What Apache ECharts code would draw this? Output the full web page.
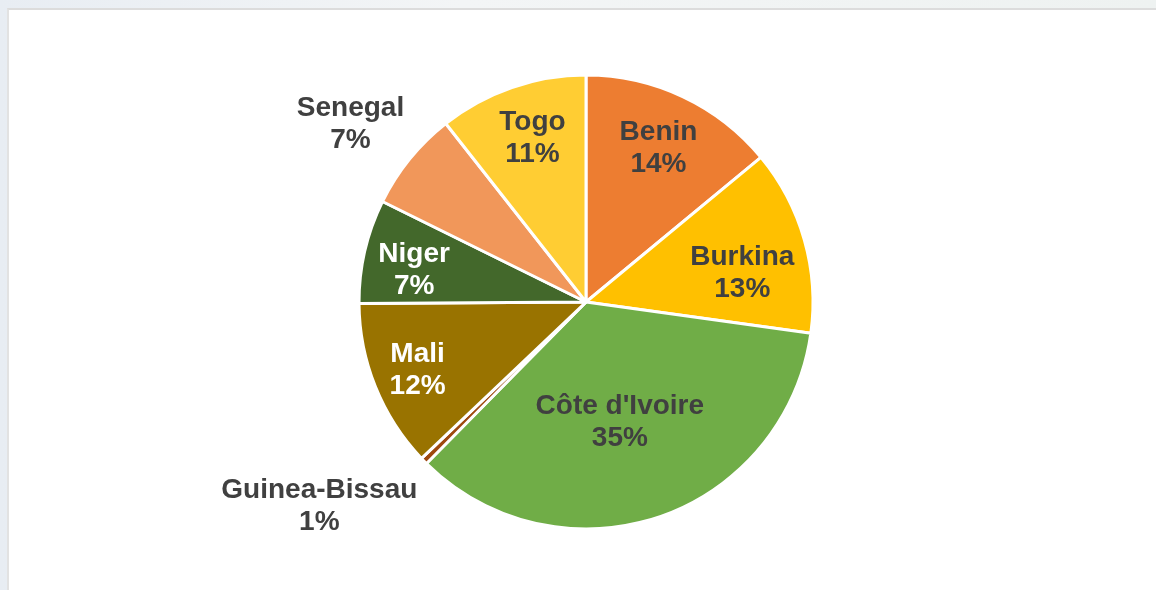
<!DOCTYPE html>
<html>
<head>
<meta charset="utf-8">
<script src="https://cdn.jsdelivr.net/npm/echarts@6/dist/echarts.min.js"></script>
<style>
  html, body { margin: 0; padding: 0; }
  body {
    width: 1156px; height: 590px; overflow: hidden; position: relative;
    background: linear-gradient(90deg, #e8edf3 0%, #f3f5f6 40%, #eef2f1 100%);
  }
  #panel {
    position: absolute; left: 7px; top: 8px; right: 0; bottom: 0;
    background: #fff;
    border-top: 2px solid #dcdcdc;
    border-left: 2px solid #e2e2e2;
  }
  #chart { position: absolute; left: 0; top: 0; width: 1156px; height: 590px; }
</style>
</head>
<body>
<div id="panel"></div>
<div id="chart"></div>
<script>
// shares of the total, clockwise from 12 o'clock
var countries = ['Benin', 'Burkina', "Côte d'Ivoire", 'Guinea-Bissau', 'Mali', 'Niger', 'Senegal', 'Togo'];
var shares = [14.0, 13.2, 35.2, 0.5, 12.0, 7.4, 7.1, 10.6];

var colors = ['#ED7D31', '#FFC000', '#70AD47', '#9E480E', '#997300', '#43682B', '#F1975A', '#FFCD33'];
var labelColors = ['#404040', '#404040', '#404040', '#404040', '#ffffff', '#ffffff', '#404040', '#404040'];
// where each label sits: distance from centre (in radii) and a small turn in degrees
var labelDist = [0.75, 0.70, 0.55, 1.48, 0.80, 0.77, 1.30, 0.76];
var labelTurn = [0, 5.5, 3, 7, 0, -2.5, -2, 1];

var cx = 586, cy = 302, R = 227;

var myChart = echarts.init(document.getElementById('chart'), null, { renderer: 'canvas' });

var option = {
  backgroundColor: 'transparent',
  animation: false,
  series: [{
    type: 'pie',
    center: [cx, cy],
    radius: [0, R],
    startAngle: 90,
    clockwise: true,
    percentPrecision: 0,
    avoidLabelOverlap: false,
    itemStyle: { borderColor: '#ffffff', borderWidth: 3 },
    label: {
      show: true,
      position: 'inside',
      formatter: '{b}\n{d}%',
      fontFamily: 'Liberation Sans, Arial, sans-serif',
      fontWeight: 'bold',
      fontSize: 28,
      lineHeight: 32
    },
    labelLine: { show: false },
    emphasis: { disabled: true },
    labelLayout: function (p) {
      var i = p.dataIndex;
      var lx = p.labelRect.x + p.labelRect.width / 2 - cx;
      var ly = p.labelRect.y + p.labelRect.height / 2 - cy;
      var a = Math.atan2(lx, -ly) + labelTurn[i] * Math.PI / 180;
      return {
        x: cx + labelDist[i] * R * Math.sin(a),
        y: cy - labelDist[i] * R * Math.cos(a),
        align: 'center',
        verticalAlign: 'middle'
      };
    },
    data: countries.map(function (name, i) {
      return {
        name: name,
        value: shares[i],
        itemStyle: { color: colors[i] },
        label: { color: labelColors[i] }
      };
    })
  }]
};

myChart.setOption(option);
window.addEventListener('resize', function () { myChart.resize(); });
</script>
</body>
</html>
